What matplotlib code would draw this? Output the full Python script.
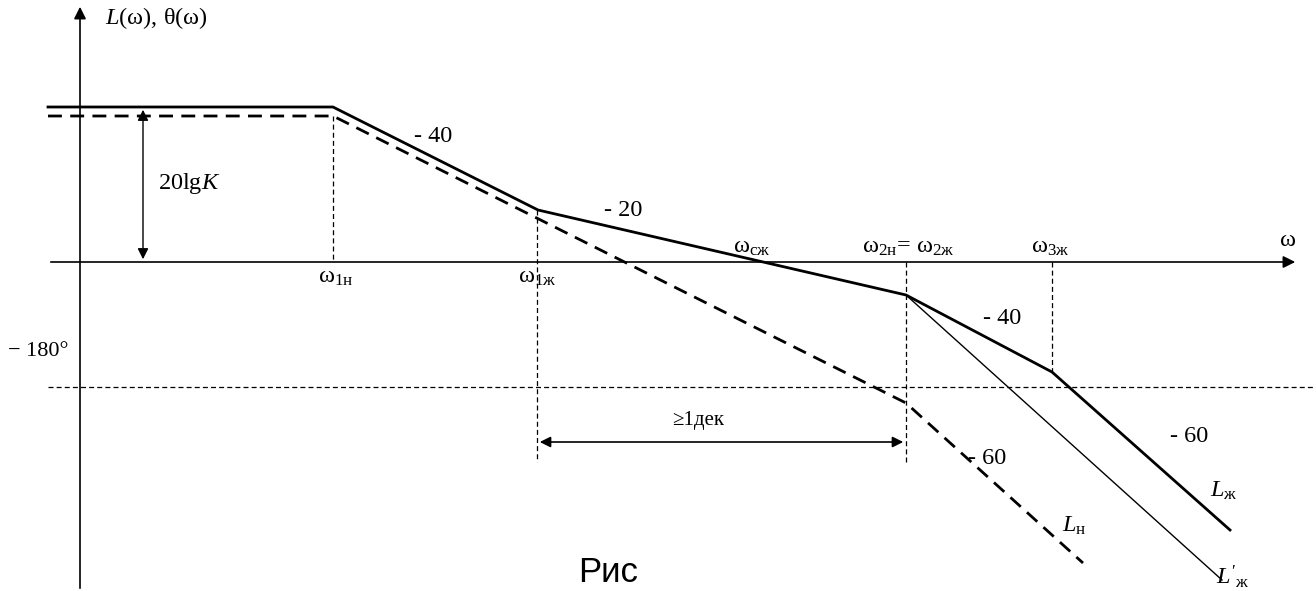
import matplotlib
matplotlib.use("Agg")
import matplotlib.pyplot as plt

plt.rcParams['font.family'] = ['Liberation Serif', 'DejaVu Serif']
plt.rcParams['mathtext.fontset'] = 'custom'
plt.rcParams['mathtext.rm'] = 'Liberation Serif'
plt.rcParams['mathtext.it'] = 'Liberation Serif:italic'

# Asymptotic LAFC break points (drawing units, y downward)
L_zh_x = [48, 333, 538, 906, 1052, 1230]
L_zh_y = [107, 107, 210, 295, 372, 530]
L_n_x = [48, 333, 906, 1083]
L_n_y = [116, 116, 403, 563]
L_zh_prime_x = [906, 1222]
L_zh_prime_y = [295, 580]

axis_y = 262
phase_y = 387          # -180 deg level
slope_labels = ["- 40", "- 20", "- 40", "- 60", "- 60"]

fig = plt.figure(figsize=(13.16, 5.91), dpi=100)
ax = fig.add_axes([0, 0, 1, 1])
ax.set_xlim(0, 1316)
ax.set_ylim(591, 0)
ax.axis('off')

k = 'black'
# axes
ax.annotate('', xy=(80, 4), xytext=(80, 591),
            arrowprops=dict(arrowstyle='-|>', color=k, lw=1.2, mutation_scale=18))
ax.annotate('', xy=(1298, axis_y), xytext=(48, axis_y),
            arrowprops=dict(arrowstyle='-|>', color=k, lw=1.2, mutation_scale=18))

# -180 line
ax.plot([48, 1316], [phase_y, phase_y], color=k, lw=0.9, ls=(0, (4, 2.5)))

# vertical dashed guides
ax.plot([333, 333], [116, axis_y], color=k, lw=0.9, ls=(0, (4, 2.5)))
ax.plot([537, 537], [210, 462], color=k, lw=0.9, ls=(0, (4, 2.5)))
ax.plot([906, 906], [axis_y, 462], color=k, lw=0.9, ls=(0, (4, 2.5)))
ax.plot([1052, 1052], [axis_y, 372], color=k, lw=0.9, ls=(0, (4, 2.5)))

# curves
ax.plot(L_zh_x, L_zh_y, color=k, lw=2.0, solid_joinstyle='miter')
ax.plot(L_n_x, L_n_y, color=k, lw=2.0, ls=(0, (5, 3)))
ax.plot(L_zh_prime_x, L_zh_prime_y, color=k, lw=1.0)

# double arrows
ax.annotate('', xy=(143, 107), xytext=(143, axis_y),
            arrowprops=dict(arrowstyle='<|-|>', color=k, lw=1.0, mutation_scale=16))
ax.annotate('', xy=(537, 442), xytext=(906, 442),
            arrowprops=dict(arrowstyle='<|-|>', color=k, lw=1.2, mutation_scale=16))

fs = 17.5
ax.text(105, 18, r'$\mathit{L}$(ω), θ(ω)', fontsize=fs, va='center', ha='left')
ax.text(158, 183, r'20lg$\mathit{K}$', fontsize=fs, va='center', ha='left')
ax.text(414, 137, slope_labels[0], fontsize=fs, va='center', ha='left')
ax.text(604, 211, slope_labels[1], fontsize=fs, va='center', ha='left')
ax.text(983, 318, slope_labels[2], fontsize=fs, va='center', ha='left')
ax.text(968, 459, slope_labels[3], fontsize=fs, va='center', ha='left')
ax.text(1170, 436, slope_labels[4], fontsize=fs, va='center', ha='left')

ax.text(318, 278, r'ω$_{\mathrm{1н}}$', fontsize=fs, va='center', ha='left')
ax.text(518, 278, r'ω$_{\mathrm{1ж}}$', fontsize=fs, va='center', ha='left')
ax.text(733, 247, r'ω$_{\mathrm{сж}}$', fontsize=fs, va='center', ha='left')
ax.text(862, 247, r'ω$_{\mathrm{2н}}$= ω$_{\mathrm{2ж}}$', fontsize=fs, va='center', ha='left')
ax.text(1031, 247, r'ω$_{\mathrm{3ж}}$', fontsize=fs, va='center', ha='left')
ax.text(1280, 241, 'ω', fontsize=fs, va='center', ha='left')
ax.text(8, 352, '− 180°', fontsize=fs - 1.5, va='center', ha='left')
ax.text(672, 421, '≥1дек', fontsize=fs - 2.5, va='center', ha='left')

ax.text(1210, 491, r'$\mathit{L}_{\mathrm{ж}}$', fontsize=fs, va='center', ha='left')
ax.text(1062, 526, r'$\mathit{L}_{\mathrm{н}}$', fontsize=fs, va='center', ha='left')
ax.text(1216, 577, r"$\mathit{L}'_{\mathrm{ж}}$", fontsize=fs, va='center', ha='left')

ax.text(578, 589, 'Рис', fontsize=25, va='bottom', ha='left', family='Liberation Sans')

fig.savefig('out.png', dpi=100)
